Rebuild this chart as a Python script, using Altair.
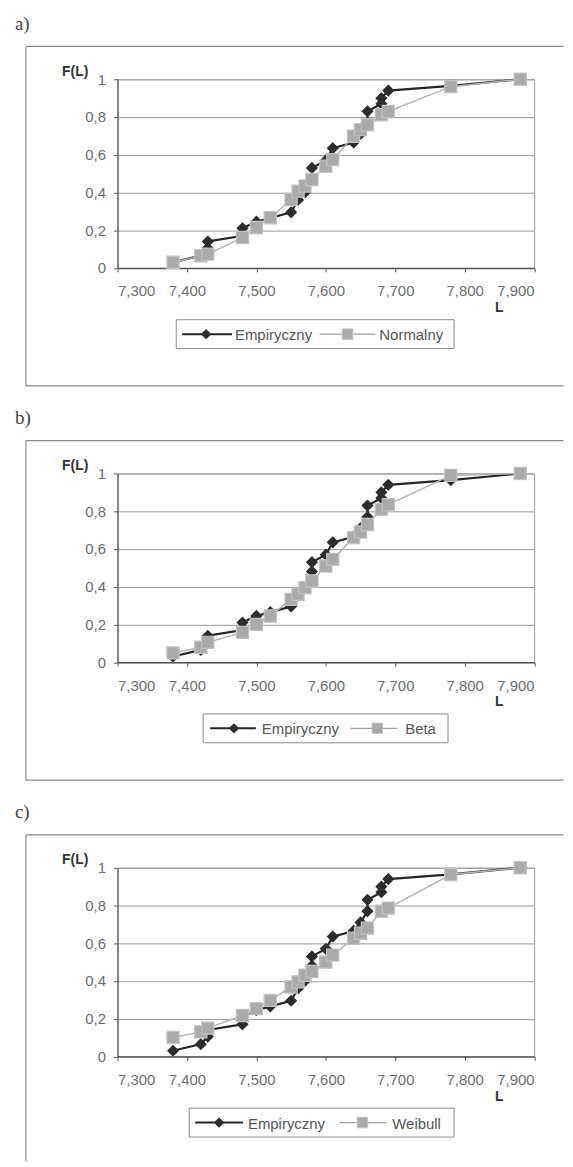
import altair as alt
import pandas as pd

# ---------------- data ----------------
L_emp = [7.38, 7.42, 7.43, 7.43, 7.48, 7.48, 7.50, 7.52, 7.55, 7.56, 7.57, 7.58,
         7.58, 7.60, 7.61, 7.64, 7.65, 7.66, 7.66, 7.68, 7.68, 7.69, 7.78, 7.88]
F_emp = [0.03, 0.065, 0.105, 0.14, 0.17, 0.21, 0.245, 0.265, 0.295, 0.36, 0.40, 0.48,
         0.53, 0.57, 0.635, 0.665, 0.71, 0.77, 0.83, 0.87, 0.90, 0.94, 0.965, 1.0]

L_theo = [7.38, 7.42, 7.43, 7.48, 7.50, 7.52, 7.55, 7.56, 7.57, 7.58,
          7.60, 7.61, 7.64, 7.65, 7.66, 7.68, 7.69, 7.78, 7.88]
F_norm = [0.03, 0.064, 0.073, 0.161, 0.214, 0.266, 0.363, 0.407, 0.434, 0.469,
          0.539, 0.574, 0.698, 0.733, 0.759, 0.812, 0.829, 0.961, 1.0]
F_beta = [0.049, 0.079, 0.105, 0.158, 0.20, 0.245, 0.333, 0.36, 0.395, 0.43,
          0.51, 0.545, 0.66, 0.69, 0.73, 0.81, 0.835, 0.99, 1.0]
F_weib = [0.10, 0.13, 0.15, 0.217, 0.253, 0.297, 0.368, 0.395, 0.43, 0.45,
          0.50, 0.537, 0.626, 0.653, 0.68, 0.769, 0.786, 0.964, 1.0]

panel_labels = ["a)", "b)", "c)"]
theo_names = ["Normalny", "Beta", "Weibull"]
theo_values = [F_norm, F_beta, F_weib]
emp_name = "Empiryczny"

x_ticks = [7.3, 7.4, 7.5, 7.6, 7.7, 7.8, 7.9]
y_ticks = [0, 0.2, 0.4, 0.6, 0.8, 1]

# ---------------- layout (pixels, relative to plot area origin) ----------------
W, H = 418.5, 189.5
FONT = "Liberation Sans"
legend_geo = [
    dict(bx0=59, bx1=338, l1=(65, 115), s1=89, t1=118, l2=(203, 259), s2=231, t2=263),
    dict(bx0=86, bx1=332, l1=(93, 139), s1=117, t1=145, l2=(234, 281), s2=261, t2=289),
    dict(bx0=72, bx1=338, l1=(78, 126), s1=102, t1=131, l2=(223, 270), s2=246, t2=276),
]
LEG_Y0, LEG_Y1 = 241.5, 270.5
LEG_YC = (LEG_Y0 + LEG_Y1) / 2

one = pd.DataFrame({"d": [0]})


def deco(mark, **enc):
    return getattr(alt.Chart(one), mark)(**enc.pop("_mk", {})).encode(**enc)


def panel(i):
    last = i == 2
    emp_df = pd.DataFrame({"L": L_emp, "F": F_emp, "k": list(range(len(L_emp)))})
    th_df = pd.DataFrame({"L": L_theo, "F": theo_values[i], "k": list(range(len(L_theo)))})

    xs = alt.Scale(domain=[7.3, 7.9], nice=False, zero=False)
    ys = alt.Scale(domain=[0, 1], nice=False, zero=False)
    xenc = alt.X("L:Q", scale=xs, axis=alt.Axis(
        values=x_ticks, labelExpr="replace(format(datum.value, '.3f'), '.', ',')",
        title="L", titleAngle=0, titleX=383, titleY=40, titleAlign="center",
        titleBaseline="middle", grid=False, tickSize=4, labelPadding=12,
        labelBaseline="top"))
    yenc = alt.Y("F:Q", scale=ys, axis=alt.Axis(
        values=y_ticks,
        labelExpr="(datum.value == 0 || datum.value == 1) ? format(datum.value, 'd') : replace(format(datum.value, '.1f'), '.', ',')",
        title="F(L)", titleAngle=0, titleX=-43, titleY=-8, titleAlign="center",
        titleBaseline="middle", grid=True, tickSize=4, labelPadding=8))

    bottom = 295 if last else 308
    bound_bottom = 295 if last else 326

    layers = [
        deco("mark_rect", _mk=dict(fill="white", opacity=0),
             x=alt.value(-109), x2=alt.value(448), y=alt.value(-68), y2=alt.value(bound_bottom)),
        deco("mark_rule", _mk=dict(color="#8a8a8a", strokeWidth=1.2),
             x=alt.value(-92), x2=alt.value(448), y=alt.value(-33)),
        deco("mark_rule", _mk=dict(color="#8a8a8a", strokeWidth=1.2),
             x=alt.value(-92), y=alt.value(-33), y2=alt.value(bottom)),
    ]
    if not last:
        layers.append(deco("mark_rule", _mk=dict(color="#8a8a8a", strokeWidth=1.2),
                           x=alt.value(-92), x2=alt.value(448), y=alt.value(308)))
    layers.append(deco("mark_text", _mk=dict(align="left", baseline="middle", fontSize=19,
                                             font="Liberation Serif", color="#444"),
                       x=alt.value(-103), y=alt.value(-56), text=alt.value(panel_labels[i])))

    layers += [
        alt.Chart(emp_df).mark_line(color="#262626", strokeWidth=2.2).encode(x=xenc, y=yenc, order="k:Q"),
        alt.Chart(emp_df).mark_point(shape="diamond", filled=True, size=150, color="#2c2c2c",
                                     opacity=1).encode(x=xenc, y=yenc),
        alt.Chart(th_df).mark_line(color="#b4b4b4", strokeWidth=1.5).encode(x=xenc, y=yenc, order="k:Q"),
        alt.Chart(th_df).mark_point(shape="square", filled=True, size=150, fill="#aaaaaa",
                                    stroke="#c2c2c2", strokeWidth=1.2, opacity=1).encode(x=xenc, y=yenc),
    ]

    g = legend_geo[i]
    layers += [
        deco("mark_rect", _mk=dict(fill="white", stroke="#8a8a8a", strokeWidth=1),
             x=alt.value(g["bx0"]), x2=alt.value(g["bx1"]), y=alt.value(LEG_Y0), y2=alt.value(LEG_Y1)),
        deco("mark_rule", _mk=dict(color="#262626", strokeWidth=2),
             x=alt.value(g["l1"][0]), x2=alt.value(g["l1"][1]), y=alt.value(LEG_YC)),
        deco("mark_point", _mk=dict(shape="diamond", filled=True, size=110, color="#2c2c2c", opacity=1),
             x=alt.value(g["s1"]), y=alt.value(LEG_YC)),
        deco("mark_text", _mk=dict(align="left", baseline="middle", fontSize=15, font=FONT, color="#555"),
             x=alt.value(g["t1"]), y=alt.value(LEG_YC + 1), text=alt.value(emp_name)),
        deco("mark_rule", _mk=dict(color="#a0a0a0", strokeWidth=1.2),
             x=alt.value(g["l2"][0]), x2=alt.value(g["l2"][1]), y=alt.value(LEG_YC)),
        deco("mark_point", _mk=dict(shape="square", filled=True, size=110, fill="#aaaaaa",
                                     stroke="#c2c2c2", strokeWidth=1, opacity=1),
             x=alt.value(g["s2"]), y=alt.value(LEG_YC)),
        deco("mark_text", _mk=dict(align="left", baseline="middle", fontSize=15, font=FONT, color="#555"),
             x=alt.value(g["t2"]), y=alt.value(LEG_YC + 1), text=alt.value(theo_names[i])),
    ]
    return alt.layer(*layers).properties(width=W, height=H)


chart = alt.vconcat(panel(0), panel(1), panel(2), spacing=0).properties(
    padding=0, background="white"
).configure_view(
    stroke="#9a9a9a", strokeWidth=1
).configure_axis(
    domainColor="#555", tickColor="#555", labelColor="#6e6e6e",
    labelFont=FONT, labelFontSize=15, gridColor="#9a9a9a", gridWidth=1,
    titleFont=FONT, titleFontWeight="bold", titleFontSize=14, titleColor="#333",
    domainWidth=1.2
)

chart.save("out.html", embed_options={"renderer": "svg", "actions": False})
